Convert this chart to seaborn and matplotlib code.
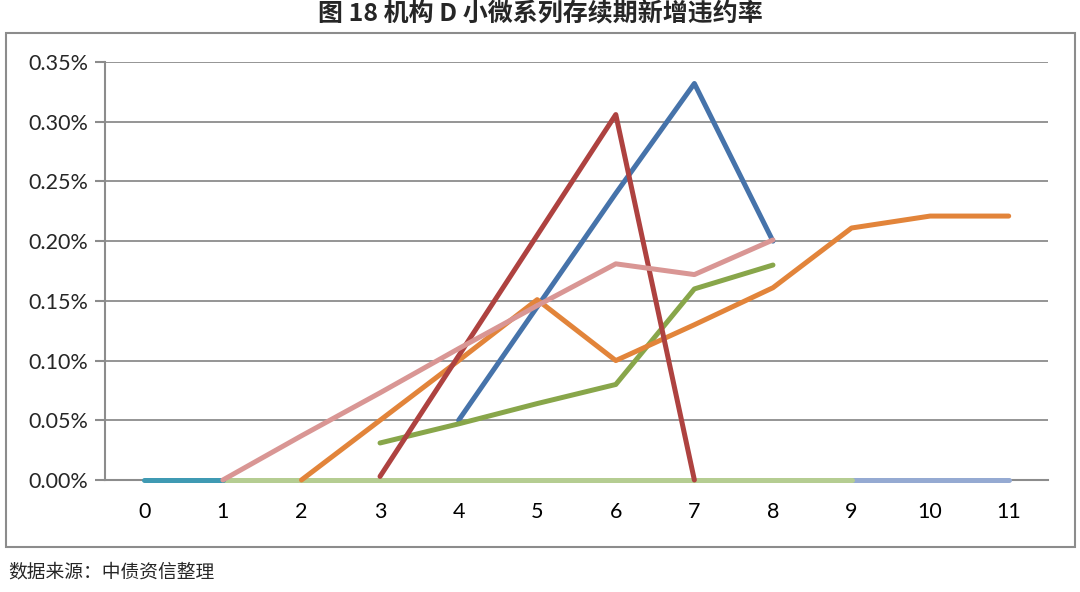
import matplotlib
matplotlib.use("Agg")
import matplotlib.pyplot as plt
import numpy as np
import pandas as pd
import seaborn as sns
from matplotlib.patches import Rectangle
from matplotlib.ticker import FuncFormatter, MultipleLocator

# values in percent, period 0..11 (NaN = not present)
periods = list(range(12))
nan = np.nan
s_lightblue = [nan] * 9 + [0.0, 0.0, 0.0]
s_lightgreen = [nan, 0.0, 0.0, 0.0, 0.0, 0.0, 0.0, 0.0, 0.0, 0.0, nan, nan]
s_teal = [0.0, 0.0] + [nan] * 10
s_blue = [nan, nan, nan, nan, 0.05, 0.145, 0.24, 0.332, 0.20, nan, nan, nan]
s_green = [nan, nan, nan, 0.031, 0.047, 0.064, 0.08, 0.16, 0.18, nan, nan, nan]
s_orange = [nan, nan, 0.0, 0.05, 0.10, 0.151, 0.10, 0.13, 0.161, 0.211, 0.221, 0.221]
s_red = [nan, nan, nan, 0.003, 0.104, 0.205, 0.306, 0.0, nan, nan, nan, nan]
s_pink = [nan, 0.0, 0.037, 0.073, 0.11, 0.146, 0.181, 0.172, 0.201, nan, nan, nan]

series = {
    "s9": s_lightblue,
    "s8": s_lightgreen,
    "s7": s_teal,
    "s1": s_blue,
    "s3": s_green,
    "s6": s_orange,
    "s2": s_red,
    "s5": s_pink,
}
colors = {
    "s9": "#95AAD2",
    "s8": "#B5CD92",
    "s7": "#3F9AB3",
    "s1": "#4673AA",
    "s3": "#88A64A",
    "s6": "#E2843A",
    "s2": "#AE4240",
    "s5": "#D99694",
}

rows = []
for name, vals in series.items():
    for p, v in zip(periods, vals):
        if not np.isnan(v):
            rows.append({"series": name, "period": p, "rate": v})
df = pd.DataFrame(rows)

sns.set_style("white")
plt.rcParams["font.family"] = ["Lato", "Noto Sans CJK SC", "DejaVu Sans"]

fig = plt.figure(figsize=(10.8, 5.92), dpi=100)
ax = fig.add_axes([105 / 1080, 1 - 480 / 592, (1048 - 105) / 1080, (480 - 62) / 592])

sns.lineplot(
    data=df, x="period", y="rate", hue="series", palette=colors,
    hue_order=list(series.keys()), estimator=None, sort=False,
    linewidth=3.6, legend=False, ax=ax,
)
for line in ax.lines:
    line.set_solid_capstyle("round")
    line.set_clip_on(False)
    line.set_zorder(3)

grid_c = "#8C8C8C"
ax.set_xlim(-0.5, 11.5)
ax.set_ylim(0, 0.35)
ax.yaxis.set_major_locator(MultipleLocator(0.05))
ax.yaxis.set_major_formatter(FuncFormatter(lambda v, _: f"{v:.2f}%"))
ax.set_xticks(periods)
ax.set_xticks(np.arange(-0.5, 12, 1), minor=True)
ax.tick_params(axis="x", which="major", length=0, pad=16, labelsize=15.5, colors="black")
ax.tick_params(axis="x", which="minor", length=9, width=1.5, color=grid_c, direction="out")
ax.tick_params(axis="y", length=7, width=1.5, color=grid_c, pad=5, labelsize=15.5, left=True)
ax.grid(axis="y", color=grid_c, linewidth=1.3)
ax.set_axisbelow(True)
for side in ["top", "right"]:
    ax.spines[side].set_visible(False)
for side in ["left", "bottom"]:
    ax.spines[side].set_color(grid_c)
    ax.spines[side].set_linewidth(1.5)
    ax.spines[side].set_zorder(2)
ax.set_xlabel("")
ax.set_ylabel("")

fig.patches.append(Rectangle(
    (6 / 1080, 1 - 547 / 592), (1075 - 6) / 1080, (547 - 33) / 592,
    transform=fig.transFigure, fill=False, edgecolor=grid_c, linewidth=1.5,
))
fig.text(0.5, 1 - 14 / 592, "图 18 机构 D 小微系列存续期新增违约率", ha="center", va="center",
         fontsize=18, fontweight="bold", family=["Noto Sans CJK SC", "DejaVu Sans"])
fig.text(8 / 1080, 1 - 572 / 592, "数据来源：中债资信整理", ha="left", va="center",
         fontsize=13.5, family=["Noto Sans CJK SC", "DejaVu Sans"])

fig.savefig("out.png", dpi=100)
